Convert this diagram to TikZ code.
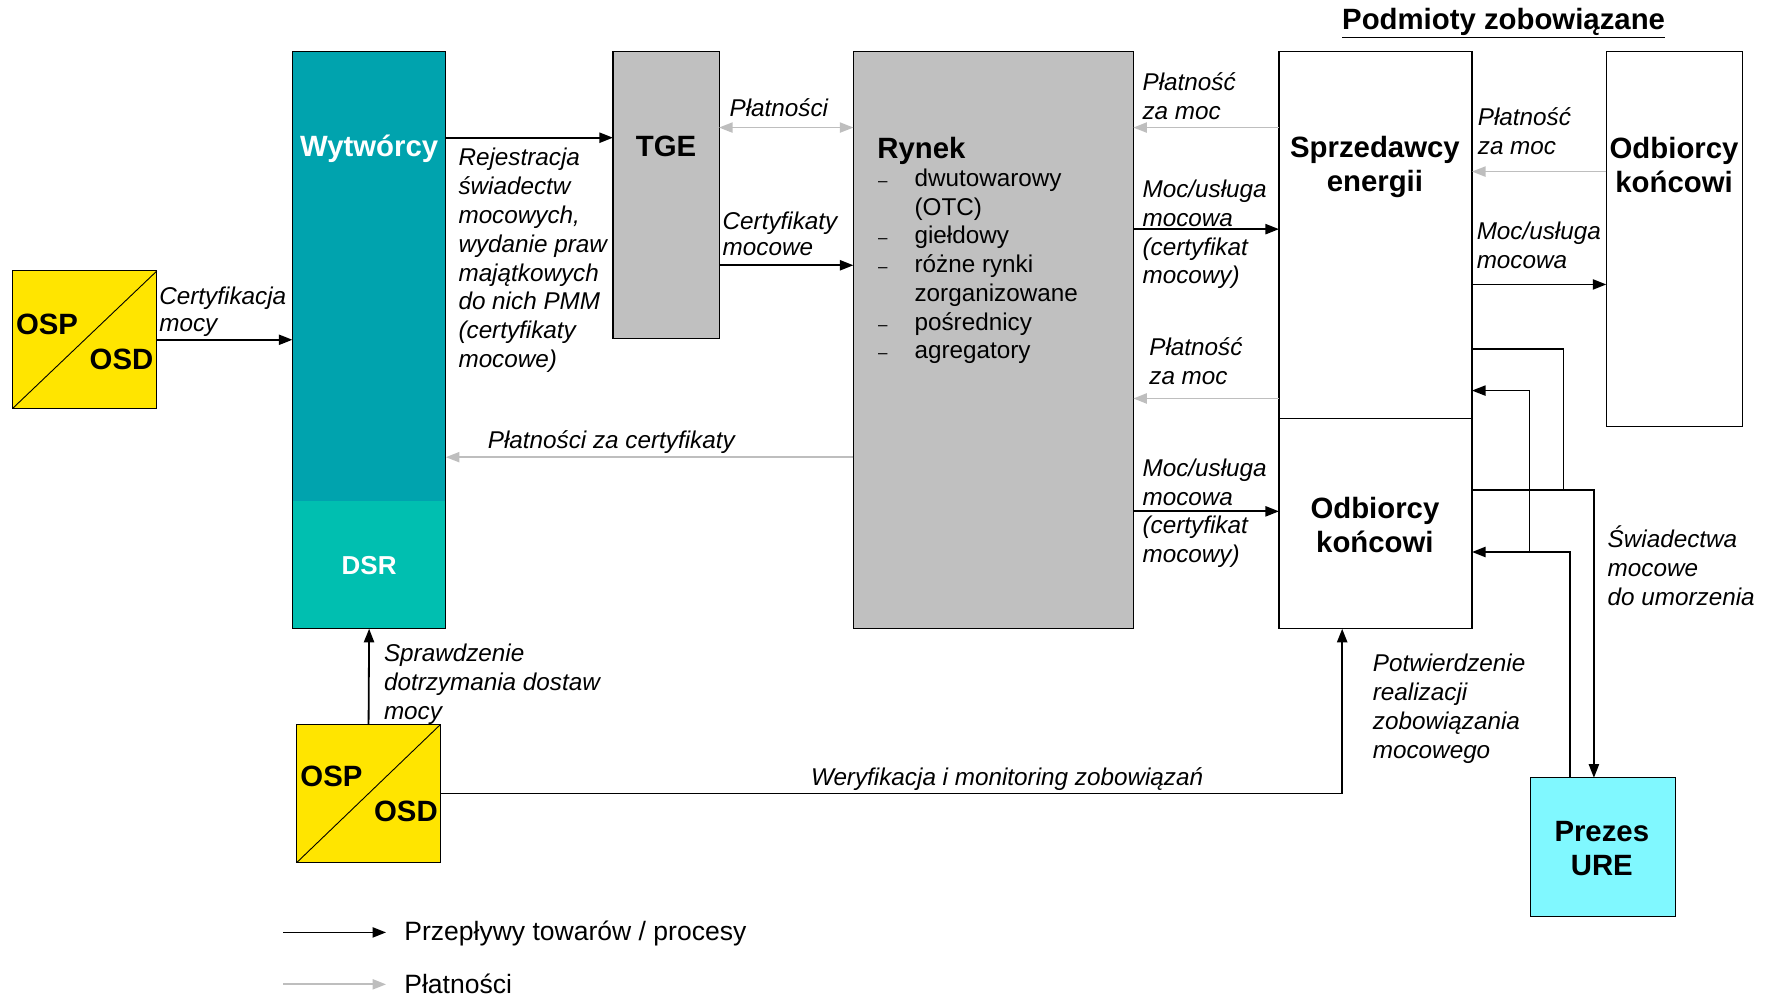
\documentclass[tikz,border=0pt]{standalone}
\usepackage{fontspec}
\setmainfont{Liberation Sans}
\usetikzlibrary{arrows.meta,calc}
\definecolor{tealc}{HTML}{00A3AE}
\definecolor{dsrc}{HTML}{00BFB0}
\definecolor{grayc}{HTML}{C0C0C0}
\definecolor{yel}{HTML}{FFE500}
\definecolor{urec}{HTML}{80F8FF}
\definecolor{payc}{HTML}{BEBEBE}
\newcommand\lbf{\fontsize{21.5pt}{25.5pt}\selectfont\itshape}
\newcommand\hdf{\fontsize{26pt}{30pt}\selectfont\bfseries}
\newcommand\rgf{\fontsize{21.5pt}{25.5pt}\selectfont}
\newcommand\lgf{\fontsize{23.5pt}{28pt}\selectfont}
\newcommand\dsh{\llap{{\fontsize{15pt}{15pt}\selectfont --}\hspace{24pt}}}
\begin{document}
\begin{tikzpicture}[x=1pt,y=-1pt,
  box/.style={draw=black,line width=1pt,inner sep=0pt,outer sep=0pt,anchor=north west},
  lbl/.style={font=\lbf,align=left,anchor=base west,inner sep=0pt},
  hdt/.style={font=\hdf,align=center,inner sep=0pt},
  rgt/.style={font=\rgf,align=left,anchor=base west,inner sep=0pt},
  lgt/.style={font=\lgf,anchor=base west,inner sep=0pt},
  blk/.style={draw=black,line width=1.6pt,-{Triangle[length=12pt,width=9pt]}},
  ln/.style={draw=black,line width=1.5pt},
  pay/.style={draw=payc,line width=1.6pt,-{Triangle[length=12pt,width=9pt]}},
  paytwo/.style={draw=payc,line width=1.6pt,{Triangle[length=12pt,width=9pt]}-{Triangle[length=12pt,width=9pt]}},
]
\useasboundingbox (0,0) rectangle (1568,882);

% title
\node[hdt,anchor=base] (title) at (1332,26) {\underline{Podmioty zobowiązane}};

% OSP/OSD 1
\node[box,fill=yel,minimum width=128pt,minimum height=122pt] (osp1) at (11,240) {};
\draw[line width=0.8pt] (osp1.south west) -- (osp1.north east);
\node[hdt,anchor=base west] (osp1a) at (14,296) {OSP};
\node[hdt,anchor=base east] (osp1b) at (136,327) {OSD};

% Wytworcy / DSR
\node[box,draw=none,fill=tealc,minimum width=136pt,minimum height=511pt] (wyt) at (259,46) {};
\node[box,draw=none,fill=dsrc,minimum width=136pt,minimum height=113pt] (dsr) at (259,444) {};
\draw[line width=1pt] (wyt.north west) rectangle (wyt.south east);
\node[hdt,text=white] (wyta) at (327,132) {Wytwórcy};
\node[font=\fontsize{23pt}{27pt}\selectfont\bfseries,text=white,inner sep=0pt] (dsra) at (327,501) {DSR};

% TGE
\node[box,fill=grayc,minimum width=94pt,minimum height=254pt] (tge) at (543,46) {};
\node[hdt] (tgea) at (590,130) {TGE};

% Rynek
\node[box,fill=grayc,minimum width=248pt,minimum height=511pt] (ryn) at (756,46) {};
\node[hdt,anchor=base west] (ryna) at (777,140) {Rynek};
\node[rgt] (rynl) at (810,318) {\dsh dwutowarowy\\(OTC)\\\dsh giełdowy\\\dsh różne rynki\\zorganizowane\\\dsh pośrednicy\\\dsh agregatory};

% Sprzedawcy / Odbiorcy
\node[box,fill=white,minimum width=171pt,minimum height=325pt] (sprz) at (1133,46) {};
\node[box,fill=white,minimum width=171pt,minimum height=186pt] (odb) at (1133,371) {};
\node[hdt] (sprza) at (1218,148) {Sprzedawcy\\energii};
\node[hdt] (odba) at (1218,465) {Odbiorcy\\końcowi};

\node[box,fill=white,minimum width=121pt,minimum height=332pt] (odr) at (1423,46) {};
\node[hdt] (odra) at (1483,146) {Odbiorcy\\końcowi};

% Prezes URE
\node[box,fill=urec,minimum width=128pt,minimum height=123pt] (ure) at (1356,689) {};
\node[hdt] (urea) at (1419,752) {Prezes\\URE};

% OSP/OSD 2
\node[box,fill=yel,minimum width=127pt,minimum height=122pt] (osp2) at (263,642) {};
\draw[line width=0.8pt] (osp2.south west) -- (osp2.north east);
\node[hdt,anchor=base west] (osp2a) at (266,697) {OSP};
\node[hdt,anchor=base east] (osp2b) at (388,728) {OSD};

% connectors left part
\draw[blk] (osp1.east |- 0,301) -- (wyt.west |- 0,301);
\node[lbl,font=\fontsize{21.5pt}{23.5pt}\selectfont\itshape] (l1) at (141,293.5) {Certyfikacja\\mocy};

\draw[blk] (wyt.east |- 0,122) -- (tge.west |- 0,122);
\node[lbl] (l2) at (406,325.5) {Rejestracja\\świadectw\\mocowych,\\wydanie praw\\majątkowych\\do nich PMM\\(certyfikaty\\mocowe)};

\draw[paytwo] (tge.east |- 0,113) -- (ryn.west |- 0,113);
\node[lbl,anchor=base] (l3) at (690,103) {Płatności};

\draw[blk] (tge.east |- 0,235) -- (ryn.west |- 0,235);
\node[lbl,font=\fontsize{21.5pt}{23.5pt}\selectfont\itshape] (l4) at (640,226.5) {Certyfikaty\\mocowe};

\draw[pay] (ryn.west |- 0,405) -- (wyt.east |- 0,405);
\node[lbl] (l5) at (432,397) {Płatności za certyfikaty};

% Rynek <-> Sprzedawcy / Odbiorcy
\draw[pay] (sprz.west |- 0,113) -- (ryn.east |- 0,113);
\node[lbl] (l6) at (1012,105.5) {Płatność\\za moc};
\draw[blk] (ryn.east |- 0,203) -- (sprz.west |- 0,203);
\node[lbl] (l7) at (1012,251.5) {Moc/usługa\\mocowa\\(certyfikat\\mocowy)};
\draw[pay] (sprz.west |- 0,353) -- (ryn.east |- 0,353);
\node[lbl] (l8) at (1018,340.5) {Płatność\\za moc};
\draw[blk] (ryn.east |- 0,453) -- (odb.west |- 0,453);
\node[lbl] (l9) at (1012,498.5) {Moc/usługa\\mocowa\\(certyfikat\\mocowy)};

% Sprzedawcy <-> Odbiorcy (right)
\draw[pay] (odr.west |- 0,152) -- (sprz.east |- 0,152);
\node[lbl] (l10) at (1309,136.5) {Płatność\\za moc};
\draw[blk] (sprz.east |- 0,252) -- (odr.west |- 0,252);
\node[lbl] (l11) at (1308,237.5) {Moc/usługa\\mocowa};

% routing to / from Prezes URE
\coordinate (j1) at (1385,434);
\coordinate (j2) at (1355,489);
\draw[ln] (sprz.east |- 0,309) -| (j1);
\draw[blk,line width=1.5pt] (odb.east |- 0,434) -| (ure.north -| 1412,0);
\draw[blk,line width=1.5pt] (ure.north -| 1391,0) |- (odb.east |- 0,489);
\draw[blk,line width=1.5pt] (j2) |- (sprz.east |- 0,346);
\node[lbl] (l12) at (1424,536) {Świadectwa\\mocowe\\do umorzenia};

% bottom connectors
\draw[blk] (osp2.north) -- (dsr.south);
\node[lbl] (l13) at (340,637) {Sprawdzenie\\dotrzymania dostaw\\mocy};
\draw[blk] (osp2.east |- 0,703) -| (odb.south -| 1189,0);
\node[lbl,anchor=base east] (l14) at (1066,696) {Weryfikacja i monitoring zobowiązań};
\node[lbl] (l15) at (1216,671.5) {Potwierdzenie\\realizacji\\zobowiązania\\mocowego};

% legend
\coordinate (lg1a) at (251,826);
\coordinate (lg1b) at (342,826);
\coordinate (lg2a) at (251,872);
\coordinate (lg2b) at (342,872);
\draw[blk] (lg1a) -- (lg1b);
\draw[pay] (lg2a) -- (lg2b);
\node[lgt] (lg1) at (358,833) {Przepływy towarów / procesy};
\node[lgt] (lg2) at (358,880) {Płatności};
\end{tikzpicture}
\end{document}
